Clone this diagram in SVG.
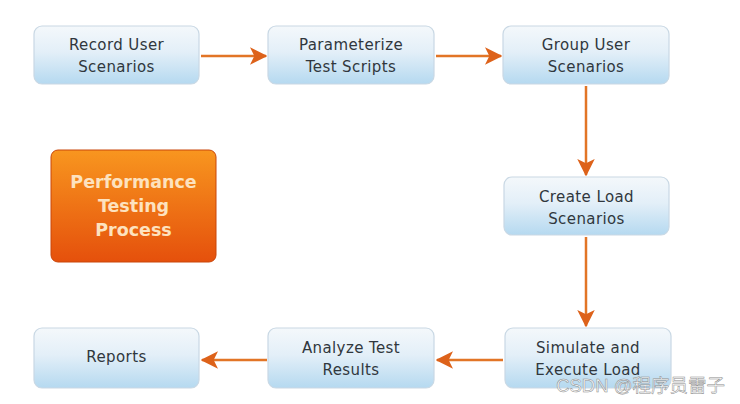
<svg xmlns="http://www.w3.org/2000/svg" width="740" height="404" viewBox="0 0 740 404">
<style>
.box{fill:url(#g);stroke:#c9d8e4;stroke-width:1.2}
.t{font-family:"DejaVu Sans",Verdana,sans-serif;font-size:15px;letter-spacing:0.4px;fill:#30373d;text-anchor:middle}
.c{stroke:#e27526;stroke-width:2.5;fill:none;marker-end:url(#a)}
.p{font-family:"DejaVu Sans",Verdana,sans-serif;font-size:17.5px;font-weight:bold;fill:#fde2bf;text-anchor:middle}
</style>
<defs>
<linearGradient id="g" x1="0" y1="0" x2="0" y2="1">
<stop offset="0" stop-color="#f4f8fb"/>
<stop offset="0.45" stop-color="#e3eff8"/>
<stop offset="1" stop-color="#b5d9f0"/>
</linearGradient>
<linearGradient id="o" x1="0" y1="0" x2="0" y2="1">
<stop offset="0" stop-color="#f8961f"/>
<stop offset="1" stop-color="#e5500c"/>
</linearGradient>
<marker id="a" viewBox="0 0 12 12" refX="11" refY="6" markerWidth="7" markerHeight="7" markerUnits="strokeWidth" orient="auto">
<path d="M0,0 L12,6 L0,12 L3,6 Z" fill="#dd621a"/>
</marker>
</defs>
<rect width="740" height="404" fill="#ffffff"/>
<g id="connectors">
<line class="c" x1="201" y1="56" x2="266" y2="56"/>
<line class="c" x1="436" y1="56" x2="501" y2="56"/>
<line class="c" x1="586" y1="86" x2="586" y2="175"/>
<line class="c" x1="586" y1="237" x2="586" y2="326"/>
<line class="c" x1="503" y1="360" x2="437" y2="360"/>
<line class="c" x1="267" y1="360" x2="202" y2="360"/>
</g>
<g id="n1"><rect class="box" x="34" y="26" width="165" height="58" rx="8"/><text class="t" x="116.5" y="50">Record User</text><text class="t" x="116.5" y="72">Scenarios</text></g>
<g id="n2"><rect class="box" x="268" y="26" width="166" height="58" rx="8"/><text class="t" x="351" y="50">Parameterize</text><text class="t" x="351" y="72">Test Scripts</text></g>
<g id="n3"><rect class="box" x="503" y="26" width="166" height="58" rx="8"/><text class="t" x="586" y="50">Group User</text><text class="t" x="586" y="72">Scenarios</text></g>
<g id="n4"><rect class="box" x="504" y="177" width="165" height="58" rx="8"/><text class="t" x="586.5" y="202">Create Load</text><text class="t" x="586.5" y="224">Scenarios</text></g>
<g id="n5"><rect class="box" x="505" y="328" width="166" height="60" rx="8"/><text class="t" x="588" y="353">Simulate and</text><text class="t" x="588" y="375">Execute Load</text></g>
<g id="n6"><rect class="box" x="268" y="328" width="166" height="60" rx="8"/><text class="t" x="351" y="353">Analyze Test</text><text class="t" x="351" y="375">Results</text></g>
<g id="n7"><rect class="box" x="34" y="328" width="165" height="60" rx="8"/><text class="t" x="116.5" y="362">Reports</text></g>
<g id="title"><rect x="51" y="150" width="165" height="112" rx="7" fill="url(#o)" stroke="#c9460a" stroke-width="1"/><text class="p" x="133.5" y="188">Performance</text><text class="p" x="133.5" y="212">Testing</text><text class="p" x="133.5" y="236">Process</text></g>
<text x="725" y="392" font-family="'Liberation Sans','Noto Sans CJK SC',sans-serif" font-size="18.5" fill="#ffffff" fill-opacity="0.85" stroke="#8a8a8a" stroke-width="0.5" text-anchor="end">CSDN @程序员雷子</text>
</svg>
